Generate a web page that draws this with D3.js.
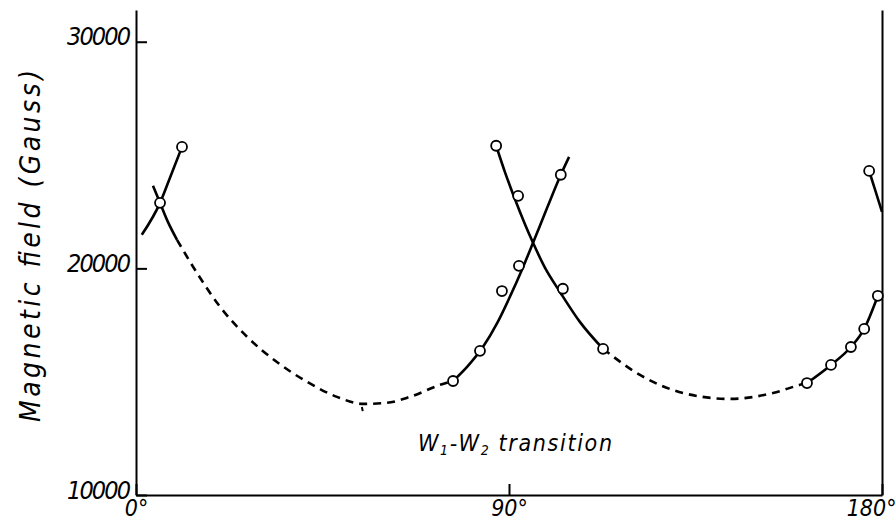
<html>
<head>
<script src="https://d3js.org/d3.v7.min.js"></script>
<style>
  body { margin: 0; background: white; }
  .hand { font-family: "DejaVu Sans Condensed", "DejaVu Sans", sans-serif; font-stretch: condensed; font-style: italic; fill: black; }
</style>
</head>
<body>
<svg width="896" height="524"></svg>
<script>
  // tick labels
  var angleTicks = [0, 90, 180];
  var fieldTicks = [10000, 20000, 30000];

  // measured points (open circles)
  var obsAngle = [5.8, 11.1, 86.9, 92.2, 92.4, 88.3, 83.0, 76.5, 102.5, 103.0, 112.7, 176.9, 179.0, 175.7, 172.5, 167.7, 161.9];
  var obsField = [22890, 25360, 25410, 23200, 20110, 19000, 16360, 15030, 24130, 19100, 16450, 24300, 18790, 17330, 16530, 15740, 14940];

  // curves
  var riseNear0Angle = [1.4, 5.8, 8.2, 11.1];
  var riseNear0Field = [21480, 22890, 24000, 25360];
  var fallNear0Angle = [4.1, 5.8, 7.7, 9.9];
  var fallNear0Field = [23640, 22890, 22050, 21260];
  var trough1Angle = [9.9, 14.7, 20.3, 26.8, 34.0, 41.3, 48.5, 54.8, 60.6, 66.1, 73.4, 76.5];
  var trough1Field = [21260, 19800, 18300, 16980, 15870, 14990, 14330, 14020, 14070, 14330, 14860, 15030];
  var rise90Angle = [76.5, 80.1, 83.7, 87.3, 90.2, 93.1, 95.8, 99.2, 102.5, 104.5];
  var rise90Field = [15030, 15700, 16530, 17640, 18740, 19930, 21130, 22670, 24130, 24920];
  var fall90Angle = [86.9, 89.0, 91.4, 93.8, 95.8, 98.7, 102.3, 107.1, 112.7];
  var fall90Field = [25410, 24260, 23070, 21970, 21130, 20020, 18960, 17640, 16450];
  var trough2Angle = [112.7, 121.6, 132.0, 143.3, 153.7, 160.2, 161.9];
  var trough2Field = [16450, 15300, 14500, 14240, 14500, 14860, 14940];
  var rise180Angle = [161.9, 167.7, 172.5, 175.7, 179.0];
  var rise180Field = [14940, 15740, 16530, 17330, 18790];
  var fall180Angle = [176.9, 180];
  var fall180Field = [24300, 22490];

  var solidCurves = [
    [riseNear0Angle, riseNear0Field],
    [fallNear0Angle, fallNear0Field],
    [rise90Angle, rise90Field],
    [fall90Angle, fall90Field],
    [rise180Angle, rise180Field],
    [fall180Angle, fall180Field]
  ];
  var dashedCurves = [
    [trough1Angle, trough1Field],
    [trough2Angle, trough2Field]
  ];

  var svg = d3.select("svg");
  var x = d3.scaleLinear().domain([0, 180]).range([136, 882]);
  var y = d3.scaleLinear().domain([10000, 31400]).range([495, 10]);

  var line = d3.line()
    .x(function(d) { return x(d[0]); })
    .y(function(d) { return y(d[1]); })
    .curve(d3.curveMonotoneX);

  function pairs(c) { return c[0].map(function(a, i) { return [a, c[1][i]]; }); }

  // axes
  var yAxis = svg.append("g").attr("transform", "translate(136,0)")
    .call(d3.axisLeft(y).tickValues(fieldTicks).tickSizeInner(-11).tickSizeOuter(0).tickPadding(5)
      .tickFormat(function(d) { return d; }));
  svg.append("g").attr("transform", "translate(882,0)")
    .call(d3.axisRight(y).tickValues([]).tickSizeOuter(0));
  var xAxis = svg.append("g").attr("transform", "translate(0,495)")
    .call(d3.axisBottom(x).tickValues(angleTicks).tickSizeInner(-11).tickSizeOuter(0).tickPadding(5)
      .tickFormat(function(d) { return d + "\u00b0"; }));

  svg.selectAll(".domain, .tick line").attr("stroke", "black").attr("stroke-width", 2);
  yAxis.selectAll("text").attr("class", "hand").style("font-size", "25px").attr("textLength", 64)
    .attr("dy", "0.12em");
  xAxis.selectAll("text").attr("class", "hand").style("font-size", "23px");
  xAxis.selectAll(".tick:last-of-type text").attr("text-anchor", "end").attr("x", 14);

  // curves
  svg.append("g").selectAll("path").data(solidCurves).enter()
    .append("path")
    .attr("d", function(c) { return line(pairs(c)); })
    .attr("fill", "none").attr("stroke", "black").attr("stroke-width", 2.6);
  svg.append("g").selectAll("path").data(dashedCurves).enter()
    .append("path")
    .attr("d", function(c) { return line(pairs(c)); })
    .attr("fill", "none").attr("stroke", "black").attr("stroke-width", 2.6)
    .attr("stroke-dasharray", "8,6");

  // little stroke under the first minimum
  svg.append("line")
    .attr("x1", x(54.5)).attr("y1", y(13880)).attr("x2", x(54.7)).attr("y2", y(13700))
    .attr("stroke", "black").attr("stroke-width", 2);

  // points
  svg.append("g").selectAll("circle").data(obsAngle).enter()
    .append("circle")
    .attr("cx", function(d) { return x(d); })
    .attr("cy", function(d, i) { return y(obsField[i]); })
    .attr("r", 5)
    .attr("fill", "white").attr("stroke", "black").attr("stroke-width", 1.8);

  // axis title
  svg.append("text")
    .attr("class", "hand")
    .attr("transform", "translate(40,246) rotate(-90)")
    .attr("text-anchor", "middle")
    .style("font-size", "28px")
    .attr("textLength", 352)
    .text("Magnetic field (Gauss)");

  // annotation
  var t = svg.append("text").attr("class", "hand")
    .attr("x", 418).attr("y", 451)
    .style("font-size", "23px")
    .attr("textLength", 194);
  t.append("tspan").text("W");
  t.append("tspan").attr("dy", 4).style("font-size", "14px").text("1");
  t.append("tspan").attr("dy", -4).text("-W");
  t.append("tspan").attr("dy", 4).style("font-size", "14px").text("2");
  t.append("tspan").attr("dy", -4).text(" transition");
</script>
</body>
</html>
